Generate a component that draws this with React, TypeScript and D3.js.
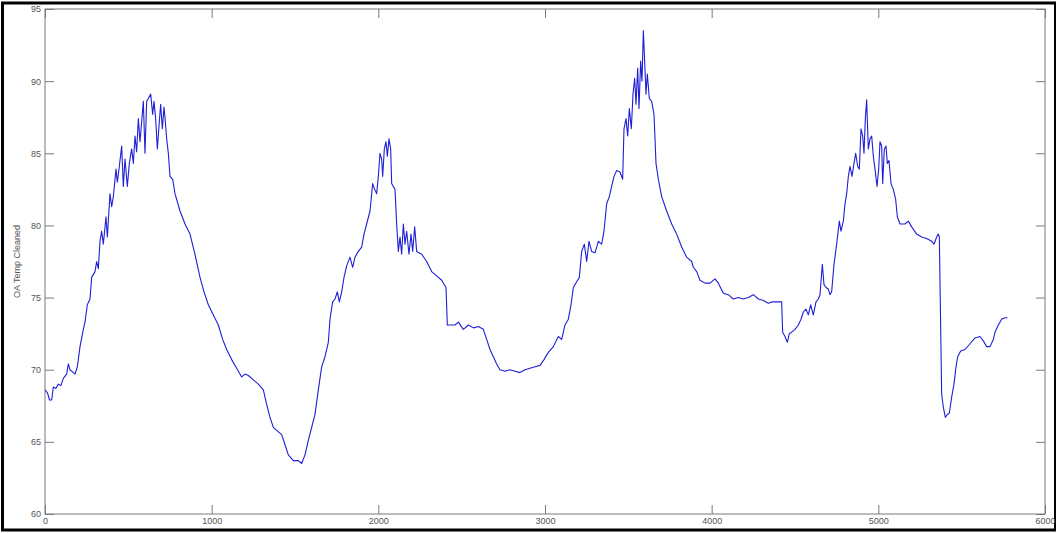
import React, { useEffect, useRef } from 'react';
import * as d3 from 'd3';

// sample index (x) and outside-air temperature (y)
const sampleIdx = [
  0, 15, 27, 40, 50, 65, 80, 95, 110, 130, 140, 150, 160, 180, 194, 210, 230, 240, 254, 270,
  280, 300, 310, 320, 330, 340, 350, 366, 374, 390, 400, 410, 426, 434, 446, 460, 470, 480, 494, 506,
  520, 530, 540, 550, 560, 570, 580, 590, 600, 610, 620, 634, 646, 654, 664, 674, 686, 694, 704, 714,
  722, 730, 740, 750, 766, 780, 810, 840, 870, 900, 930, 954, 980, 1010, 1040, 1066, 1090, 1120, 1150, 1180,
  1200, 1220, 1250, 1280, 1310, 1330, 1350, 1370, 1390, 1420, 1440, 1460, 1490, 1520, 1540, 1560, 1580, 1600, 1620, 1640,
  1660, 1680, 1700, 1710, 1726, 1740, 1754, 1766, 1780, 1794, 1810, 1830, 1846, 1860, 1880, 1900, 1914, 1930, 1950, 1966,
  1978, 1990, 2000, 2010, 2020, 2026, 2036, 2046, 2054, 2064, 2074, 2080, 2090, 2100, 2110, 2120, 2130, 2140, 2150, 2160,
  2170, 2184, 2196, 2206, 2218, 2230, 2260, 2290, 2320, 2350, 2380, 2406, 2414, 2430, 2460, 2480, 2510, 2540, 2570, 2600,
  2630, 2650, 2670, 2690, 2710, 2730, 2760, 2790, 2820, 2850, 2880, 2910, 2940, 2970, 2994, 3020, 3050, 3080, 3100, 3120,
  3140, 3156, 3170, 3190, 3206, 3220, 3236, 3250, 3264, 3280, 3300, 3320, 3340, 3354, 3370, 3386, 3400, 3414, 3430, 3450,
  3466, 3474, 3486, 3496, 3506, 3518, 3528, 3538, 3546, 3556, 3564, 3574, 3582, 3590, 3596, 3606, 3614, 3626, 3640, 3654,
  3666, 3680, 3700, 3730, 3760, 3790, 3820, 3850, 3880, 3890, 3910, 3930, 3960, 3990, 4020, 4040, 4070, 4100, 4130, 4160,
  4190, 4220, 4250, 4280, 4310, 4340, 4360, 4390, 4420, 4426, 4440, 4454, 4466, 4480, 4500, 4520, 4536, 4550, 4566, 4580,
  4594, 4610, 4626, 4640, 4650, 4664, 4674, 4686, 4700, 4710, 4720, 4734, 4750, 4766, 4776, 4790, 4800, 4810, 4820, 4830,
  4842, 4854, 4864, 4876, 4886, 4896, 4906, 4914, 4922, 4930, 4940, 4950, 4960, 4970, 4980, 4992, 5002, 5010, 5020, 5026,
  5036, 5046, 5054, 5064, 5076, 5090, 5104, 5114, 5130, 5160, 5180, 5200, 5230, 5260, 5290, 5320, 5334, 5350, 5360, 5366,
  5380, 5390, 5402, 5414, 5426, 5440, 5454, 5466, 5476, 5494, 5520, 5550, 5580, 5610, 5630, 5650, 5670, 5690, 5700, 5720,
  5740, 5760, 5775
];

const oaTemp = [
  68.6, 68.4, 67.9, 67.9, 68.8, 68.7, 69.0, 68.9, 69.4, 69.7, 70.4, 70.0, 69.9, 69.7, 70.2, 71.6, 72.8, 73.3, 74.5, 74.9,
  76.4, 76.8, 77.5, 77.0, 78.9, 79.6, 78.7, 80.6, 79.2, 82.2, 81.3, 82.0, 83.9, 83.0, 84.1, 85.5, 82.7, 84.6, 82.7, 84.3,
  85.3, 84.3, 86.2, 85.1, 87.4, 85.8, 87.2, 88.6, 85.0, 88.6, 88.8, 89.1, 87.7, 88.6, 87.4, 85.3, 87.2, 88.4, 86.7, 88.2,
  87.2, 86.0, 85.0, 83.4, 83.2, 82.2, 81.0, 80.1, 79.4, 78.0, 76.4, 75.4, 74.5, 73.8, 73.1, 72.1, 71.4, 70.7, 70.1, 69.5,
  69.7, 69.6, 69.3, 69.0, 68.6, 67.6, 66.7, 66.0, 65.8, 65.5, 64.8, 64.1, 63.7, 63.7, 63.5, 64.1, 65.1, 66.0, 66.9, 68.6,
  70.2, 70.9, 71.9, 73.5, 74.7, 74.9, 75.4, 74.7, 75.4, 76.4, 77.2, 77.8, 77.1, 77.8, 78.2, 78.5, 79.4, 80.1, 81.0, 82.9,
  82.5, 82.2, 83.4, 85.0, 84.6, 83.4, 85.3, 85.8, 84.8, 86.0, 85.3, 82.9, 82.7, 82.5, 80.1, 78.2, 79.2, 78.0, 80.1, 78.7,
  79.6, 78.0, 79.4, 78.2, 79.9, 78.2, 78.0, 77.5, 76.8, 76.5, 76.2, 75.7, 73.1, 73.1, 73.1, 73.3, 72.8, 73.1, 72.9, 73.0,
  72.8, 72.1, 71.4, 70.9, 70.4, 70.0, 69.9, 70.0, 69.9, 69.8, 70.0, 70.1, 70.2, 70.3, 70.7, 71.2, 71.6, 72.3, 72.1, 73.1,
  73.5, 74.5, 75.7, 76.1, 76.4, 78.2, 78.7, 77.5, 78.9, 78.2, 78.1, 78.9, 78.7, 79.6, 81.5, 82.0, 82.7, 83.4, 83.8, 83.7,
  83.2, 86.7, 87.4, 86.2, 88.1, 86.7, 89.1, 90.2, 88.4, 90.9, 88.1, 91.4, 90.0, 93.5, 91.9, 89.1, 90.5, 88.8, 88.6, 87.7,
  84.3, 83.2, 82.0, 81.0, 80.1, 79.4, 78.5, 77.8, 77.5, 77.1, 76.8, 76.2, 76.0, 76.0, 76.3, 76.0, 75.3, 75.2, 74.9, 75.0,
  74.9, 75.0, 75.2, 74.9, 74.8, 74.6, 74.7, 74.7, 74.7, 72.6, 72.3, 71.9, 72.5, 72.6, 72.8, 73.1, 73.5, 74.0, 74.2, 73.8,
  74.5, 73.8, 74.7, 74.9, 75.2, 77.3, 75.9, 75.7, 75.6, 75.2, 75.4, 77.3, 78.7, 80.3, 79.6, 80.3, 81.5, 82.2, 83.4, 84.1,
  83.4, 84.3, 85.0, 84.1, 83.9, 86.7, 86.2, 85.0, 87.4, 88.7, 85.3, 86.0, 86.2, 84.8, 83.9, 82.7, 83.9, 85.8, 85.5, 82.9,
  85.3, 85.5, 84.3, 84.5, 82.9, 82.5, 81.8, 80.6, 80.1, 80.1, 80.3, 79.9, 79.4, 79.2, 79.1, 78.9, 78.7, 79.2, 79.4, 79.2,
  68.3, 67.4, 66.7, 66.9, 67.0, 68.1, 69.0, 70.2, 70.9, 71.3, 71.4, 71.8, 72.2, 72.3, 72.0, 71.6, 71.6, 72.1, 72.6, 73.1,
  73.5, 73.6, 73.6
];

const xTicks = [0, 1000, 2000, 3000, 4000, 5000, 6000];
const yTicks = [60, 65, 70, 75, 80, 85, 90, 95];

const OATempChart = () => {
  const chartRef = useRef<HTMLDivElement>(null);

  useEffect(() => {
    if (!chartRef.current) return;
    d3.select(chartRef.current).selectAll('*').remove();

    const width = 1056;
    const height = 533;
    const margin = { top: 9, right: 11, bottom: 19, left: 45 };
    const gray = '#7a7a7a';
    const font = '"Liberation Sans", Arial, sans-serif';

    const svg = d3.select(chartRef.current)
      .append('svg')
      .attr('width', width)
      .attr('height', height)
      .style('display', 'block')
      .style('background', '#fff');

    const x = d3.scaleLinear().domain([0, 6000]).range([margin.left, width - margin.right]);
    const y = d3.scaleLinear().domain([60, 95]).range([height - margin.bottom, margin.top]);

    // outer black frame
    svg.append('rect')
      .attr('x', 2.5)
      .attr('y', 3)
      .attr('width', width - 3)
      .attr('height', height - 6)
      .attr('fill', 'none')
      .attr('stroke', '#000')
      .attr('stroke-width', 3);

    const styleAxis = (g, withText) => {
      g.select('.domain').remove();
      g.selectAll('line').attr('stroke', gray);
      g.selectAll('text')
        .style('font-family', font)
        .style('font-size', '9px')
        .attr('fill', withText ? '#555' : 'none');
    };

    const tickLen = 9;

    // bottom / top
    svg.append('g')
      .attr('transform', `translate(0, ${y(60)})`)
      .call(d3.axisBottom(x).tickValues(xTicks).tickSize(-tickLen).tickPadding(4).tickFormat(d3.format('d')))
      .call(g => styleAxis(g, true));
    svg.append('g')
      .attr('transform', `translate(0, ${y(95)})`)
      .call(d3.axisTop(x).tickValues(xTicks).tickSize(-tickLen).tickFormat(() => ''))
      .call(g => styleAxis(g, false));

    // left / right
    svg.append('g')
      .attr('transform', `translate(${x(0)}, 0)`)
      .call(d3.axisLeft(y).tickValues(yTicks).tickSize(-tickLen).tickPadding(4))
      .call(g => styleAxis(g, true));
    svg.append('g')
      .attr('transform', `translate(${x(6000)}, 0)`)
      .call(d3.axisRight(y).tickValues(yTicks).tickSize(-tickLen).tickFormat(() => ''))
      .call(g => styleAxis(g, false));

    // plot box
    svg.append('rect')
      .attr('x', x(0))
      .attr('y', y(95))
      .attr('width', x(6000) - x(0))
      .attr('height', y(60) - y(95))
      .attr('fill', 'none')
      .attr('stroke', gray)
      .attr('stroke-width', 1);

    // y label
    svg.append('text')
      .attr('transform', `translate(20, ${(y(60) + y(95)) / 2}) rotate(-90)`)
      .attr('text-anchor', 'middle')
      .style('font-family', font)
      .style('font-size', '9px')
      .attr('fill', '#555')
      .text('OA Temp Cleaned');

    const points = sampleIdx.map((t, i) => [t, oaTemp[i]] as [number, number]);
    const line = d3.line<[number, number]>()
      .x(d => x(d[0]))
      .y(d => y(d[1]));

    svg.append('path')
      .datum(points)
      .attr('d', line)
      .attr('fill', 'none')
      .attr('stroke', '#1f1fd6')
      .attr('stroke-width', 1.1)
      .attr('stroke-linejoin', 'round');
  }, []);

  return <div ref={chartRef} style={{ position: 'absolute', left: 0, top: 0 }} />;
};

export default function App() {
  return <OATempChart />;
}
